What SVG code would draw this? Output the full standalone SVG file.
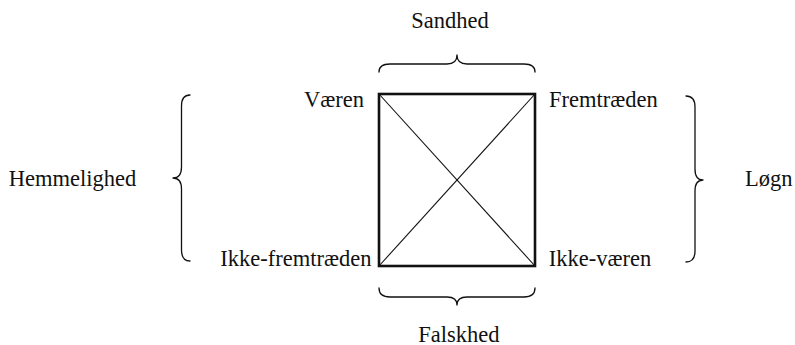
<svg xmlns="http://www.w3.org/2000/svg" width="795" height="345" viewBox="0 0 795 345">
  <style>
    .lbl { font-family: "Liberation Serif", "Times New Roman", serif; font-size: 22.5px; fill: #111; text-anchor: middle; }
    .brace { fill: none; stroke: #111; stroke-width: 1.3; stroke-linecap: round; stroke-linejoin: round; }
    .frame { fill: none; stroke: #111; stroke-width: 2.6; }
    .diag { stroke: #111; stroke-width: 1.1; }
  </style>
  <rect width="795" height="345" fill="#fff"/>

  <!-- square of opposition: frame and diagonals -->
  <g id="square">
    <line class="diag" x1="379" y1="94" x2="535" y2="266"/>
    <line class="diag" x1="535" y1="94" x2="379" y2="266"/>
    <rect class="frame" x="379" y="94" width="156" height="172"/>
  </g>

  <!-- corner terms -->
  <g id="vaeren"><text class="lbl" x="334" y="106.5">Væren</text></g>
  <g id="fremtraeden"><text class="lbl" x="603.3" y="106.5">Fremtræden</text></g>
  <g id="ikke-fremtraeden"><text class="lbl" x="295.8" y="265.7">Ikke-fremtræden</text></g>
  <g id="ikke-vaeren"><text class="lbl" x="600" y="265.7">Ikke-væren</text></g>

  <!-- side terms -->
  <g id="sandhed"><text class="lbl" x="450" y="27.7">Sandhed</text></g>
  <g id="falskhed"><text class="lbl" x="458.8" y="341.5">Falskhed</text></g>
  <g id="hemmelighed"><text class="lbl" x="72.5" y="186">Hemmelighed</text></g>
  <g id="loegn"><text class="lbl" x="768.8" y="185.7">Løgn</text></g>

  <!-- curly braces grouping each side -->
  <g id="connectors">
    <path class="brace" d="M379,72 Q379,64 390,64 H447 Q457,64 457,55 Q457,64 467,64 H524 Q535,64 535,72"/>
    <path class="brace" d="M379,288 Q379,297 390,297 H447 Q457,297 457,305 Q457,297 467,297 H524 Q535,297 535,288"/>
    <path class="brace" d="M190,95 Q181.5,95 181.5,106 V167 Q181.5,178 173,178 Q181.5,178 181.5,189 V250 Q181.5,261 190,261"/>
    <path class="brace" d="M686,96 Q695,96 695,107 V169 Q695,180 703,180 Q695,180 695,191 V251 Q695,262 686,262"/>
  </g>
</svg>
